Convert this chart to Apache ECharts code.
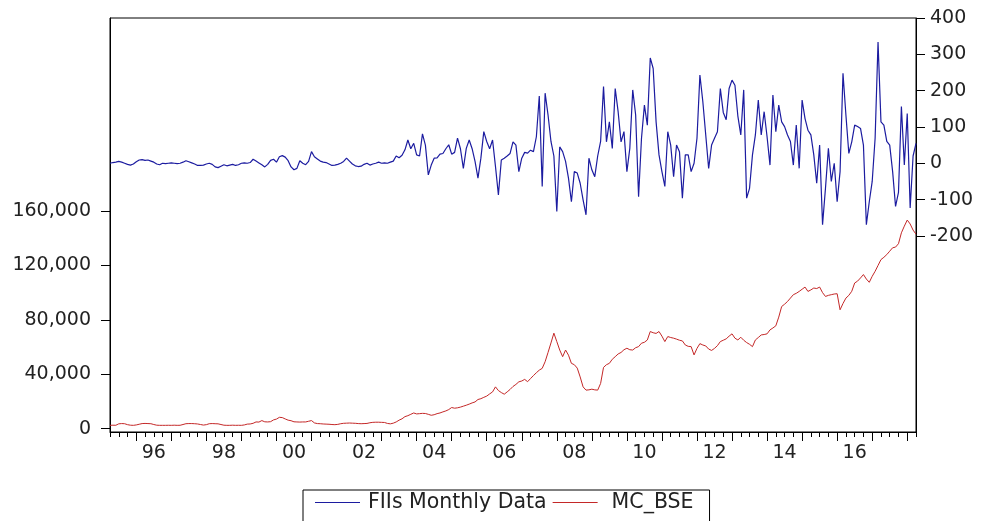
<!DOCTYPE html>
<html>
<head>
<meta charset="utf-8">
<script src="https://cdn.jsdelivr.net/npm/echarts@6/dist/echarts.min.js"></script>
<style>
html,body{margin:0;padding:0;background:#fff;}
#chart{width:982px;height:521px;}
</style>
</head>
<body>
<div id="chart"></div>
<script>
// Monthly observations 1995M04 .. 2018M04
const startYear = 1995, startMonth = 4, nMonths = 277;
const months = [];
for (let k = 0; k < nMonths; k++) {
  const m0 = startMonth - 1 + k;
  const y = startYear + Math.floor(m0 / 12);
  const m = (m0 % 12) + 1;
  months.push(y + '-' + (m < 10 ? '0' + m : '' + m));
}

const fiisMonthly = [
0,2,3,5,3,0,-3,-5,-2,4,
9,10,8,9,6,3,-2,-4,0,-1,
0,1,0,-1,0,3,7,4,1,-2,
-6,-6,-5,-2,0,-3,-10,-12,-8,-4,
-7,-5,-3,-6,-4,0,1,0,2,11,
6,1,-4,-10,-3,8,11,3,18,21,
17,7,-10,-18,-14,7,0,-4,5,32,
18,12,6,3,2,-2,-6,-5,-3,0,
5,14,6,-2,-7,-9,-8,-3,0,-5,
-2,0,3,0,1,0,3,6,20,15,
22,37,64,40,55,23,20,81,50,-32,
-5,14,15,25,27,40,51,25,30,69,
40,-14,41,64,40,5,-41,14,87,60,
40,64,-9,-87,9,14,20,27,59,50,
-23,14,30,28,36,32,73,185,-64,193,
133,60,20,-133,45,32,5,-41,-106,-23,
-27,-55,-101,-142,14,-18,-37,20,60,211,
59,114,41,206,142,59,87,-23,41,202,
133,-92,69,160,105,290,261,114,23,-23,
-64,87,50,-37,50,32,-96,23,23,-23,
0,69,243,170,78,-14,50,69,87,206,
140,120,206,229,215,130,78,202,-96,-69,
23,78,174,78,142,73,-5,188,87,160,
114,101,78,60,-5,105,-14,174,123,91,
78,23,-55,50,-169,-69,41,-50,0,-106,
-23,248,133,27,59,105,101,96,50,-169,
-106,-50,69,334,114,105,60,50,-23,-119,
-80,156,-5,137,-123,20,55
];

const mcBse = [
2400,2500,2450,3500,3700,3600,2900,2500,2400,2700,
3200,3700,3800,3700,3600,3000,2500,2400,2400,2400,
2450,2400,2500,2400,2450,3000,3600,3700,3700,3600,
3400,3000,2600,2900,3600,3700,3600,3500,3000,2500,
2400,2400,2500,2400,2450,2400,2700,3300,3400,3900,
4900,4800,5900,5000,4900,5100,6400,7000,8300,8100,
7100,6200,5800,5000,4900,4800,4900,4900,5400,5900,
4200,3700,3600,3400,3300,3200,3000,2900,3100,3600,
3900,4000,4100,4000,3900,3700,3600,3700,3800,4300,
4600,4700,4700,4600,4500,3800,3500,4000,4900,6200,
7200,8800,9500,10500,11500,10800,11000,11200,11100,10500,
9800,10200,11000,11500,12300,13000,14000,15500,15000,15300,
15800,16500,17200,18000,18900,19600,21400,22000,23000,23900,
25500,27000,30700,28000,26500,25300,27000,28800,31000,32500,
34400,35000,36200,34500,36800,39000,41100,43000,44300,49200,
56000,63000,70200,64000,57800,52900,57800,54000,48000,47000,
44500,38000,30700,28300,28500,29000,28500,28300,33200,45000,
47000,48000,51000,52900,54900,56000,58000,59100,58000,57800,
59500,60300,62800,63500,65200,71400,70500,70000,71400,68000,
64000,67700,67000,66500,65800,65000,64500,61500,60500,60300,
54200,59000,62500,61500,60800,58500,57500,59000,61000,64000,
65000,66000,68000,69700,66500,65200,67200,65000,63300,62000,
60300,65200,67000,68900,69200,69700,72600,74000,75600,82000,
89800,91500,93500,96000,98500,99500,100900,102500,104100,100900,
102000,103400,103000,104100,100000,97200,98000,98500,99000,99200,
87400,92000,96000,98000,101000,107100,108500,110800,113300,110000,
107600,112000,115700,120000,124300,126000,128000,130500,133000,133500,
136000,144000,148900,153400,150500,146000,143000
];

const xTickLabels = ['96','98','00','02','04','06','08','10','12','14','16'];
const leftTicks = [0, 40000, 80000, 120000, 160000];
const rightTicks = [-200, -100, 0, 100, 200, 300, 400];
const seriesNames = ['FIIs Monthly Data', 'MC_BSE'];

const FONT = 'DejaVu Sans';
const TXT = '#222';

function monthOf(v) { return parseInt(v.slice(5), 10); }
function yy(v) { return v.slice(2, 4); }

const chart = echarts.init(document.getElementById('chart'), null, {renderer: 'canvas'});
chart.setOption({
  animation: false,
  backgroundColor: '#fff',
  grid: {
    left: 110, right: 66, top: 18, bottom: 89,
    show: true, borderColor: '#000', borderWidth: 1, backgroundColor: '#fff'
  },
  legend: {
    data: [
      {name: seriesNames[0], textStyle: {padding: [0, 0, 0, 3]}},
      {name: seriesNames[1], textStyle: {padding: [0, 0, 0, 9]}}
    ],
    icon: 'rect',
    left: 303, top: 490,
    orient: 'horizontal',
    borderColor: '#000', borderWidth: 1,
    padding: [2, 16, 12, 12],
    itemWidth: 45, itemHeight: 1.2, itemGap: 6,
    textStyle: {fontFamily: FONT, fontSize: 20.5, color: TXT}
  },
  xAxis: [
    {
      type: 'category', data: months, boundaryGap: false, position: 'bottom',
      axisLine: {show: true, onZero: false, lineStyle: {color: '#000', width: 1}},
      axisTick: {show: true, length: 5, lineStyle: {color: '#000'},
        interval: function (i, v) { return (monthOf(v) - 1) % 3 === 0; }},
      axisLabel: {show: false},
      splitLine: {show: false}
    },
    {
      type: 'category', data: months, boundaryGap: false, position: 'bottom',
      axisLine: {show: false, onZero: false},
      axisTick: {show: true, length: 9, lineStyle: {color: '#000'},
        interval: function (i, v) { return monthOf(v) === 1; }},
      axisLabel: {
        show: true, margin: 12, fontFamily: FONT, fontSize: 19, color: TXT,
        interval: function (i, v) { return monthOf(v) === 7 && xTickLabels.indexOf(yy(v)) >= 0; },
        formatter: function (v) { return yy(v); }
      },
      splitLine: {show: false}
    }
  ],
  yAxis: [
    {
      type: 'value', position: 'left', min: -2500, max: 302000,
      axisLine: {show: true, onZero: false, lineStyle: {color: '#000'}},
      axisTick: {show: true, length: 9, lineStyle: {color: '#000'}, customValues: leftTicks},
      axisLabel: {
        show: true, margin: 19, fontFamily: FONT, fontSize: 19, color: TXT,
        customValues: leftTicks,
        formatter: function (v) { return v.toLocaleString('en-US'); }
      },
      splitLine: {show: false}
    },
    {
      type: 'value', position: 'right', min: -740, max: 400,
      axisLine: {show: true, onZero: false, lineStyle: {color: '#000'}},
      axisTick: {show: true, length: 9, lineStyle: {color: '#000'}, customValues: rightTicks},
      axisLabel: {
        show: true, margin: 14, fontFamily: FONT, fontSize: 19, color: TXT,
        customValues: rightTicks
      },
      splitLine: {show: false}
    }
  ],
  series: [
    {
      name: seriesNames[0], type: 'line', data: fiisMonthly,
      xAxisIndex: 0, yAxisIndex: 1, symbol: 'none', showSymbol: false,
      lineStyle: {color: '#1c1ca0', width: 1.2},
      itemStyle: {color: '#1c1ca0'}, z: 3
    },
    {
      name: seriesNames[1], type: 'line', data: mcBse,
      xAxisIndex: 0, yAxisIndex: 0, symbol: 'none', showSymbol: false,
      lineStyle: {color: '#c42828', width: 1},
      itemStyle: {color: '#c42828'}, z: 2
    }
  ]
});
</script>
</body>
</html>
